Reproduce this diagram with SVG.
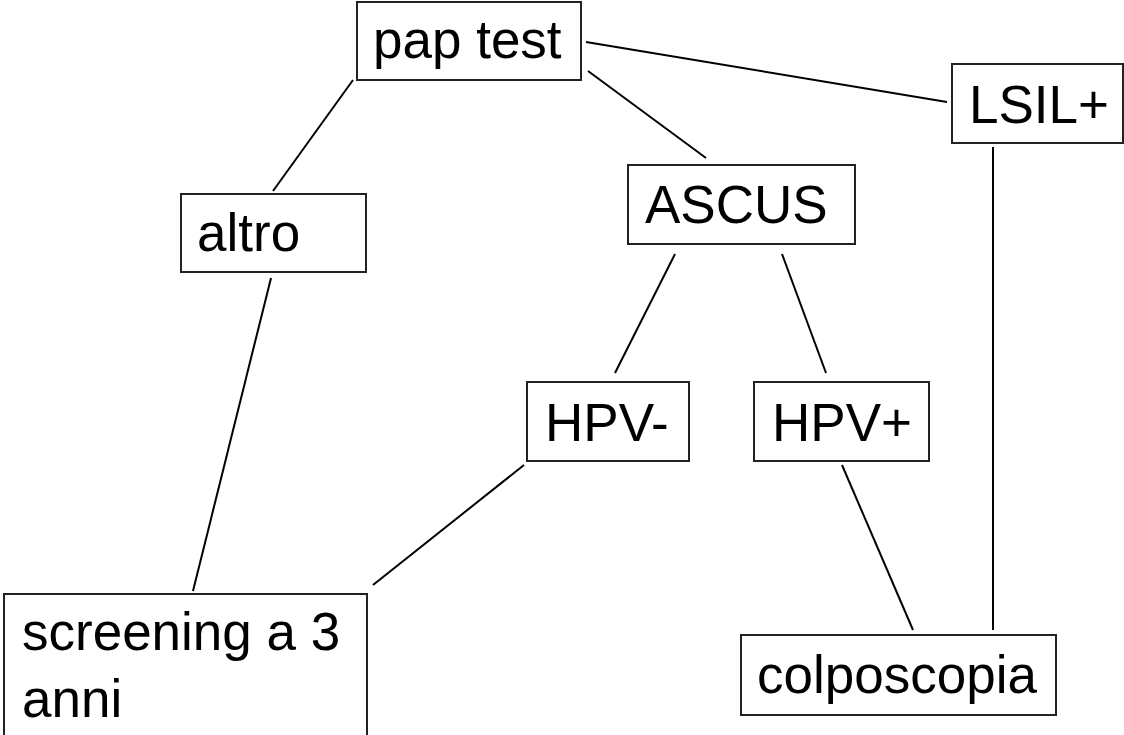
<svg xmlns="http://www.w3.org/2000/svg" width="1124" height="735" viewBox="0 0 1124 735">
<style>
.box{fill:#fff;stroke:#222;stroke-width:2}
.lbl{font-family:"Liberation Sans",Arial,sans-serif;font-size:53px;fill:#000}
.con line{stroke:#000;stroke-width:2;fill:none}
</style>
<rect width="1124" height="735" fill="#fff"/>
<g class="con" id="connectors">
<line x1="353" y1="80" x2="273" y2="191"/>
<line x1="586" y1="42" x2="947" y2="102"/>
<line x1="588" y1="71" x2="706" y2="158"/>
<line x1="675" y1="254" x2="615" y2="373"/>
<line x1="782" y1="254" x2="826" y2="373"/>
<line x1="271" y1="278" x2="193" y2="591"/>
<line x1="524" y1="465" x2="373" y2="585"/>
<line x1="842" y1="465" x2="913" y2="630"/>
<line x1="993" y1="147" x2="993" y2="630"/>
</g>
<g id="pap"><rect class="box" x="357" y="2" width="224" height="78"/><text class="lbl" x="373" y="58">pap test</text></g>
<g id="lsil"><rect class="box" x="952" y="64" width="171" height="79"/><text class="lbl" x="969" y="123">LSIL+</text></g>
<g id="ascus"><rect class="box" x="628" y="165" width="227" height="79"/><text class="lbl" x="645" y="223">ASCUS</text></g>
<g id="altro"><rect class="box" x="181" y="194" width="185" height="78"/><text class="lbl" x="197" y="251">altro</text></g>
<g id="hpvneg"><rect class="box" x="527" y="382" width="162" height="79"/><text class="lbl" x="545" y="441">HPV-</text></g>
<g id="hpvpos"><rect class="box" x="754" y="382" width="175" height="79"/><text class="lbl" x="772" y="441">HPV+</text></g>
<g id="screening"><rect class="box" x="4" y="594" width="363" height="150"/><text class="lbl" x="22" y="650">screening a 3</text><text class="lbl" x="22" y="717">anni</text></g>
<g id="colpo"><rect class="box" x="741" y="635" width="315" height="80"/><text class="lbl" x="757" y="693">colposcopia</text></g>
</svg>
